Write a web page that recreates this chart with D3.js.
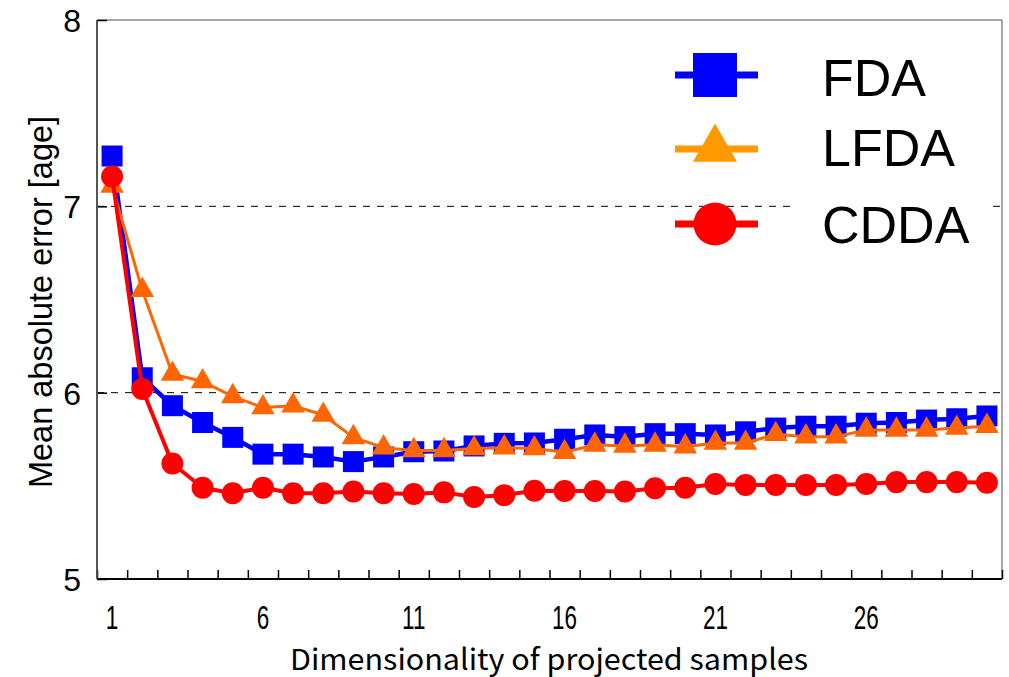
<!DOCTYPE html>
<html>
<head>
<meta charset="utf-8">
<script src="https://cdn.jsdelivr.net/npm/d3@7"></script>
<style>
  html, body { margin: 0; padding: 0; background: #fff; }
  svg { display: block; }
</style>
</head>
<body>
<svg id="chart" width="1009" height="677"></svg>
<script>
// ---- data ----
const dims = d3.range(1, 31);
const fda = [7.27, 6.08, 5.93, 5.84, 5.76, 5.67, 5.67, 5.655, 5.63, 5.655,
             5.683, 5.687, 5.714, 5.728, 5.73, 5.75, 5.773, 5.764, 5.78, 5.78,
             5.773, 5.79, 5.81, 5.82, 5.82, 5.836, 5.84, 5.853, 5.86, 5.875];
const lfda = [7.11, 6.55, 6.10, 6.06, 5.98, 5.92, 5.93, 5.88, 5.76, 5.705,
              5.69, 5.69, 5.70, 5.705, 5.70, 5.68, 5.72, 5.714, 5.72, 5.71,
              5.73, 5.73, 5.777, 5.764, 5.764, 5.80, 5.80, 5.80, 5.81, 5.82];
const cdda = [7.16, 6.02, 5.62, 5.49, 5.46, 5.49, 5.46, 5.46, 5.47, 5.46,
              5.456, 5.465, 5.44, 5.45, 5.474, 5.472, 5.472, 5.47, 5.487, 5.49,
              5.51, 5.505, 5.505, 5.505, 5.505, 5.51, 5.52, 5.52, 5.52, 5.517];
const xTickLabels = [1, 6, 11, 16, 21, 26];
const yTicks = [5, 6, 7, 8];
const gridValues = [6, 7];
const seriesNames = ["FDA", "LFDA", "CDDA"];

// ---- layout ----
const L = 97, R = 1002, T = 20, B = 579;
const svg = d3.select("#chart");
const x = d3.scaleLinear().domain([0.5, 30.5]).range([L, R]);
const y = d3.scaleLinear().domain([5, 8]).range([B, T]);

// gridlines
svg.append("g").selectAll("line").data(gridValues).join("line")
  .attr("x1", L).attr("x2", R)
  .attr("y1", d => y(d)).attr("y2", d => y(d))
  .attr("stroke", "#000").attr("stroke-width", 1)
  .attr("stroke-dasharray", "7,7");

// frame top/right
svg.append("line").attr("x1", L).attr("x2", R).attr("y1", T).attr("y2", T)
  .attr("stroke", "#888").attr("stroke-width", 1.5);
svg.append("line").attr("x1", R).attr("x2", R).attr("y1", T).attr("y2", B)
  .attr("stroke", "#888").attr("stroke-width", 1.5);

// x axis ticks (inward, at boundaries)
const xTickAxis = svg.append("g").attr("transform", `translate(0,${B})`)
  .call(d3.axisBottom(x).tickValues(d3.range(0.5, 31, 1)).tickSize(-9).tickFormat(""));
xTickAxis.select(".domain").remove();
xTickAxis.selectAll(".tick line").attr("stroke", "#000").attr("stroke-width", 1.5);

// x axis labels (narrow glyphs)
svg.append("g").selectAll("text").data(xTickLabels).join("text")
  .attr("transform", d => `translate(${x(d)},629) scale(0.66,1)`)
  .attr("text-anchor", "middle")
  .style("font-family", "'Liberation Sans', Arial, sans-serif")
  .style("font-size", "34px").attr("fill", "#000")
  .text(d => d);

// bottom axis line
svg.append("line").attr("x1", L).attr("x2", R).attr("y1", B).attr("y2", B)
  .attr("stroke", "#000").attr("stroke-width", 1.8);

// y axis
const yAx = svg.append("g").attr("transform", `translate(${L},0)`)
  .call(d3.axisLeft(y).tickValues(yTicks).tickSize(-10).tickPadding(16).tickFormat(d3.format("d")));
yAx.select(".domain").remove();
yAx.selectAll(".tick line").attr("stroke", "#000").attr("stroke-width", 1.5);
yAx.selectAll("text").style("font-family", "'Liberation Sans', Arial, sans-serif")
  .style("font-size", "32px").attr("fill", "#000").attr("dy", "0.36em");
svg.append("line").attr("x1", L).attr("x2", L).attr("y1", T).attr("y2", B)
  .attr("stroke", "#444").attr("stroke-width", 1.8);

// axis titles
svg.append("text")
  .attr("transform", `translate(52,302) rotate(-90)`)
  .attr("text-anchor", "middle")
  .style("font-family", "'Liberation Sans', Arial, sans-serif")
  .style("font-size", "32.5px").attr("fill", "#000")
  .text("Mean absolute error [age]");
svg.append("text")
  .attr("x", 290).attr("y", 670)
  .attr("textLength", 518).attr("lengthAdjust", "spacingAndGlyphs")
  .style("font-family", "'Noto Sans CJK JP', sans-serif")
  .style("font-size", "29px").attr("fill", "#000")
  .text("Dimensionality of projected samples");

// ---- series ----
const line = d3.line().x((d, i) => x(dims[i])).y(d => y(d));
const plot = svg.append("g");

// FDA
plot.append("path").datum(fda).attr("d", line)
  .attr("fill", "none").attr("stroke", "#0000ff").attr("stroke-width", 4.5)
  .attr("stroke-linejoin", "round");
plot.append("g").selectAll("path").data(fda).join("path")
  .attr("transform", (d, i) => `translate(${x(dims[i])},${y(d)})`)
  .attr("d", d3.symbol(d3.symbolSquare, 441))
  .attr("fill", "#0000ff");

// LFDA
plot.append("path").datum(lfda).attr("d", line)
  .attr("fill", "none").attr("stroke", "#ff6600").attr("stroke-width", 3)
  .attr("stroke-linejoin", "round");
plot.append("g").selectAll("path").data(lfda).join("path")
  .attr("transform", (d, i) => `translate(${x(dims[i])},${y(d)})`)
  .attr("d", d3.symbol(d3.symbolTriangle, 240))
  .attr("fill", "#ff6600");

// CDDA
plot.append("path").datum(cdda).attr("d", line)
  .attr("fill", "none").attr("stroke", "#ff0000").attr("stroke-width", 4)
  .attr("stroke-linejoin", "round");
plot.append("g").selectAll("circle").data(cdda).join("circle")
  .attr("cx", (d, i) => x(dims[i])).attr("cy", d => y(d)).attr("r", 11)
  .attr("fill", "#ff0000");

// ---- legend ----
const legendColors = ["#0000ff", "#ff9900", "#ff0000"];
const legendSymbols = [d3.symbolSquare, d3.symbolTriangle, d3.symbolCircle];
const legendSizes = [1936, 840, 1452];
const legendY = [75, 149, 224];
const legendBase = [96, 166, 243];
svg.append("rect").attr("x", 797).attr("y", 40).attr("width", 195).attr("height", 225)
  .attr("fill", "#fff");
const lg = svg.append("g");
seriesNames.forEach((name, i) => {
  lg.append("line").attr("x1", 675).attr("x2", 758)
    .attr("y1", legendY[i]).attr("y2", legendY[i])
    .attr("stroke", legendColors[i]).attr("stroke-width", 7);
  lg.append("path")
    .attr("transform", `translate(715,${legendY[i]})`)
    .attr("d", d3.symbol(legendSymbols[i], legendSizes[i]))
    .attr("fill", legendColors[i]);
  lg.append("text").attr("x", 822).attr("y", legendBase[i])
    .style("font-family", "'Liberation Sans', Arial, sans-serif")
    .style("font-size", "52px").attr("fill", "#000")
    .text(name);
});
</script>
</body>
</html>
